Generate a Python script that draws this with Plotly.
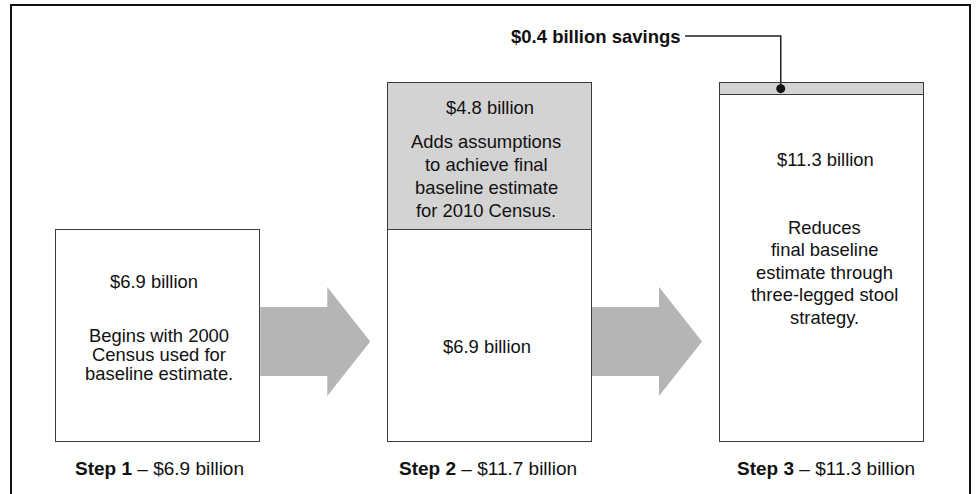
import plotly.graph_objects as go

# ---- data ----
steps = ["Step 1", "Step 2", "Step 3"]
base_values = [6.9, 6.9, 11.3]          # white segment of each bar
added_values = [None, 4.8, 0.4]         # grey segment on top
step_totals = ["$6.9 billion", "$11.7 billion", "$11.3 billion"]
base_labels = ["$6.9 billion", "$6.9 billion", "$11.3 billion"]
added_labels = [None, "$4.8 billion", None]
savings_label = "$0.4 billion savings"
desc_step1 = ["Begins with 2000", "Census used for", "baseline estimate."]
desc_step2 = ["Adds assumptions", "to achieve final", "baseline estimate", "for 2010 Census."]
desc_step3 = ["Reduces", "final baseline", "estimate through", "three-legged stool", "strategy."]

# ---- layout geometry (pixels -> axis units) ----
W, H = 979, 494
X0, SX = 158.25, 331.75     # pixel of category 0, pixels per category
Y0, SY = 441.5, 30.68       # pixel of value 0, pixels per unit


def X(px):
    return (px - X0) / SX


def Y(py):
    return (Y0 - py) / SY


FONT = "Liberation Sans, Arial, Helvetica, sans-serif"
TXT = "#111111"
BAR_W = 204 / SX

fig = go.Figure()
fig.add_trace(go.Bar(x=steps, y=base_values, width=BAR_W,
                     marker=dict(color="white", line=dict(color="#3a3a3a", width=1.5)),
                     hoverinfo="skip", showlegend=False))
fig.add_trace(go.Bar(x=steps, y=added_values, width=BAR_W,
                     marker=dict(color="#d3d3d3", line=dict(color="#3a3a3a", width=1.5)),
                     hoverinfo="skip", showlegend=False))

shapes = []
# big arrows between the bars
for i in range(len(steps) - 1):
    xs = i + BAR_W / 2
    xh = xs + 67 / SX
    xt = xs + 110 / SX
    ys_top, ys_bot = Y(307), Y(376)
    yh_top, yh_bot = Y(287), Y(396)
    ytip = Y(341.5)
    path = (f"M {xs},{ys_top} L {xh},{ys_top} L {xh},{yh_top} L {xt},{ytip} "
            f"L {xh},{yh_bot} L {xh},{ys_bot} L {xs},{ys_bot} Z")
    shapes.append(dict(type="path", xref="x", yref="y", path=path,
                       fillcolor="#b5b5b5", line=dict(width=0), layer="below"))

# leader line for savings
dot_x = 2 - 41 / SX
dot_y = base_values[2] + added_values[2] / 2
y_top = Y(36)
x_end = X(685)
shapes.append(dict(type="path", xref="x", yref="y",
                   path=f"M {dot_x},{dot_y} L {dot_x},{y_top} L {x_end},{y_top}",
                   line=dict(color="#222222", width=1.5)))
shapes.append(dict(type="circle", xref="x", yref="y", xsizemode="pixel", ysizemode="pixel",
                   xanchor=dot_x, yanchor=dot_y, x0=-4.5, x1=4.5, y0=-4.5, y1=4.5,
                   fillcolor="#111111", line=dict(width=0)))

# outer frame (open at the bottom)
shapes.append(dict(type="path", xref="paper", yref="paper",
                   path=f"M {11/W},0 L {11/W},{1-5/H} L {970/W},{1-5/H} L {970/W},0",
                   line=dict(color="#111111", width=2)))

annotations = []


def ann(text, px, py, size=18.4, xanchor="center"):
    annotations.append(dict(x=px / W, y=1 - py / H, xref="paper", yref="paper",
                            text=text, showarrow=False, xanchor=xanchor, yanchor="middle",
                            font=dict(size=size, color=TXT, family=FONT)))


# Step 1 box
ann(base_labels[0], 154, 281)
for k, line in enumerate(desc_step1):
    ann(line, 159, 335 + 19 * k)
# Step 2 box
ann(added_labels[1], 490, 107)
for k, line in enumerate(desc_step2):
    ann(line, 486, 142 + 22.7 * k)
ann(base_labels[1], 487, 346)
# Step 3 box
ann(base_labels[2], 825, 159)
for k, line in enumerate(desc_step3):
    ann(line, 824, 227 + 22.5 * k)

# step labels under the bars
label_x = [159, 488, 826]
for s, tot, lx in zip(steps, step_totals, label_x):
    ann(f"<b>{s}</b> – {tot}", lx, 468, size=19)

# savings label
ann(f"<b>{savings_label}</b>", 683, 36, size=18.5, xanchor="right")

fig.update_layout(
    width=W, height=H, margin=dict(l=0, r=0, t=0, b=0),
    paper_bgcolor="white", plot_bgcolor="white",
    barmode="stack", bargap=0,
    shapes=shapes, annotations=annotations,
    xaxis=dict(range=[X(0), X(W)], showgrid=False, zeroline=False,
               showticklabels=False, ticks="", showline=False, fixedrange=True),
    yaxis=dict(range=[Y(H), Y(0)], showgrid=False, zeroline=False,
               showticklabels=False, ticks="", showline=False, fixedrange=True),
    showlegend=False,
)

fig.write_html("out.html", config={"displayModeBar": False},
               post_script="document.body.style.margin='0';document.body.style.overflow='hidden';")
